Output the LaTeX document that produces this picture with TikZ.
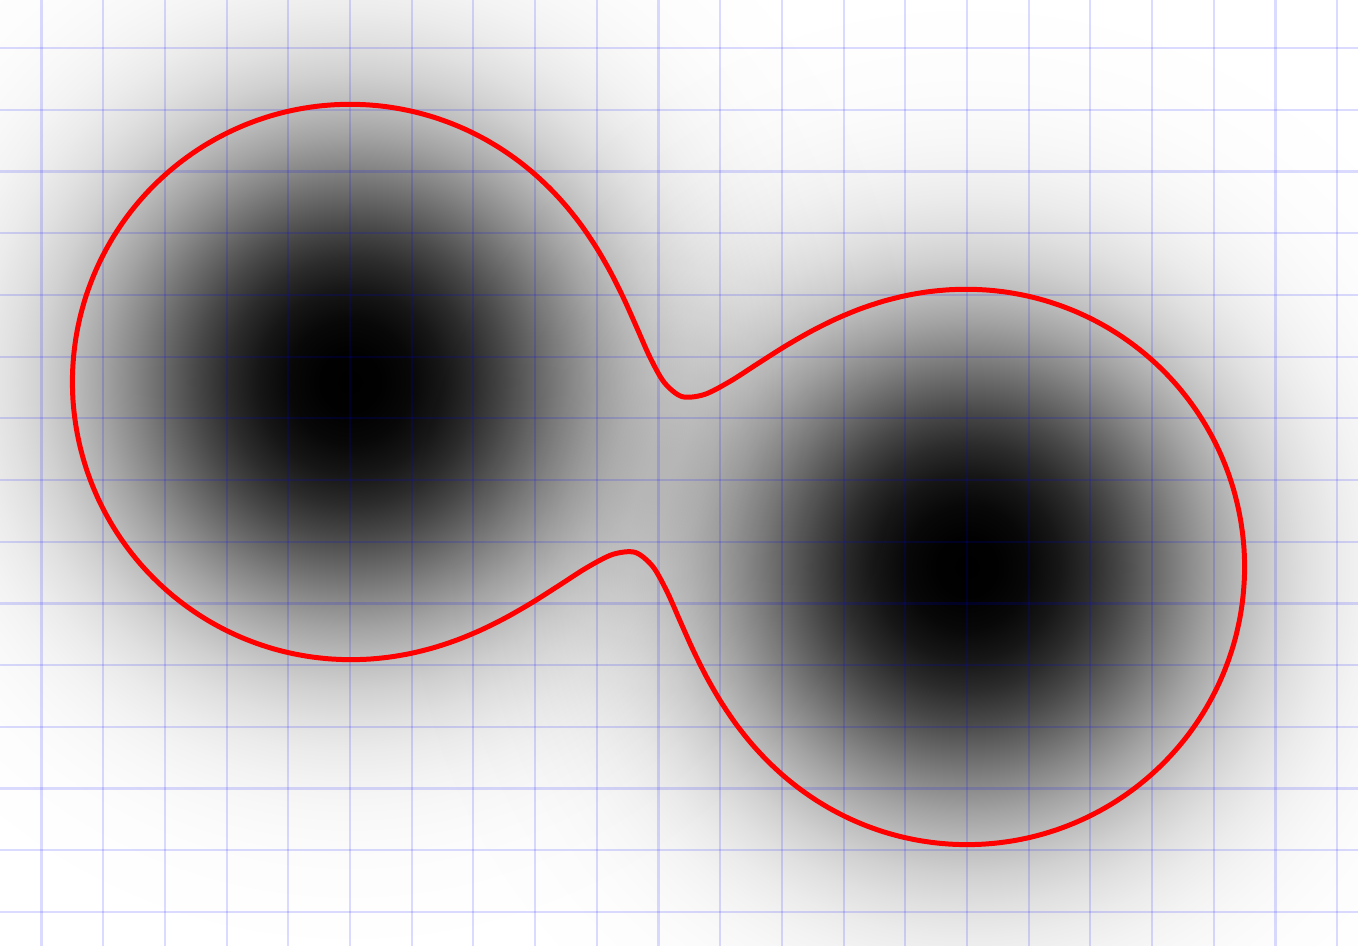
\documentclass[tikz,border=0pt]{standalone}
\usepackage{tikz}
\usetikzlibrary{calc}
\definecolor{gridblue}{HTML}{0000FF}
\definecolor{levelred}{HTML}{FF0000}
\pgfdeclareradialshading{blob}{\pgfpoint{0bp}{0bp}}{%
  color(0bp)=(black);
  color(1.25bp)=(white!0.5!black);
  color(2.5bp)=(white!3.1!black);
  color(3.75bp)=(white!8.7!black);
  color(5bp)=(white!17.2!black);
  color(6.25bp)=(white!28.1!black);
  color(7.5bp)=(white!40.3!black);
  color(8.75bp)=(white!52.6!black);
  color(10bp)=(white!64!black);
  color(11.25bp)=(white!73.9!black);
  color(12.5bp)=(white!81.9!black);
  color(13.75bp)=(white!87.9!black);
  color(15bp)=(white!92.3!black);
  color(16.25bp)=(white!95.3!black);
  color(17.5bp)=(white!97.2!black);
  color(18.75bp)=(white!98.4!black);
  color(20bp)=(white!99.2!black);
  color(22.5bp)=(white!99.8!black);
  color(25bp)=(white);
  color(50bp)=(white)}
\tikzset{
  gridline/.style={draw=gridblue, draw opacity=0.14, line width=1pt},
  levelline/.style={draw=levelred, line width=2.3pt, line join=round},
  blobshade/.style={shading=blob, blend mode=multiply},
  declare function={
    gsum(\x)=exp(0-((\x+5.22)^2)/12.61)+exp(0-((\x-5.22)^2)/12.61);
    halfwidth(\x)=3.551*sqrt(max(0,ln(gsum(\x)/gsum(9.72))));
  }
}

\begin{document}
\begin{tikzpicture}
  \coordinate (sw) at (-10.673,-7.642);
  \coordinate (ne) at (11.337,7.690);
  \coordinate (left) at (-5,1.5);
  \coordinate (right) at (5,-1.5);

  \path[use as bounding box, fill=white] (sw) rectangle (ne);
  \clip (sw) rectangle (ne);

  \shade[blobshade] (left) circle (10);
  \shade[blobshade] (right) circle (10);

  \foreach \i in {-10,...,11}
    \draw[gridline] (\i,-7.642) -- (\i,7.690);
  \foreach \j in {-7,...,7}
    \draw[gridline] (-10.673,\j-0.09) -- (11.337,\j-0.09);

  \draw[levelline, rotate=-16.70]
    plot[smooth cycle, domain=0:358, samples=180, variable=\t]
    ({9.72*cos(\t)}, {halfwidth(9.72*cos(\t))*(1-2*(\t>180))});
\end{tikzpicture}
\end{document}
